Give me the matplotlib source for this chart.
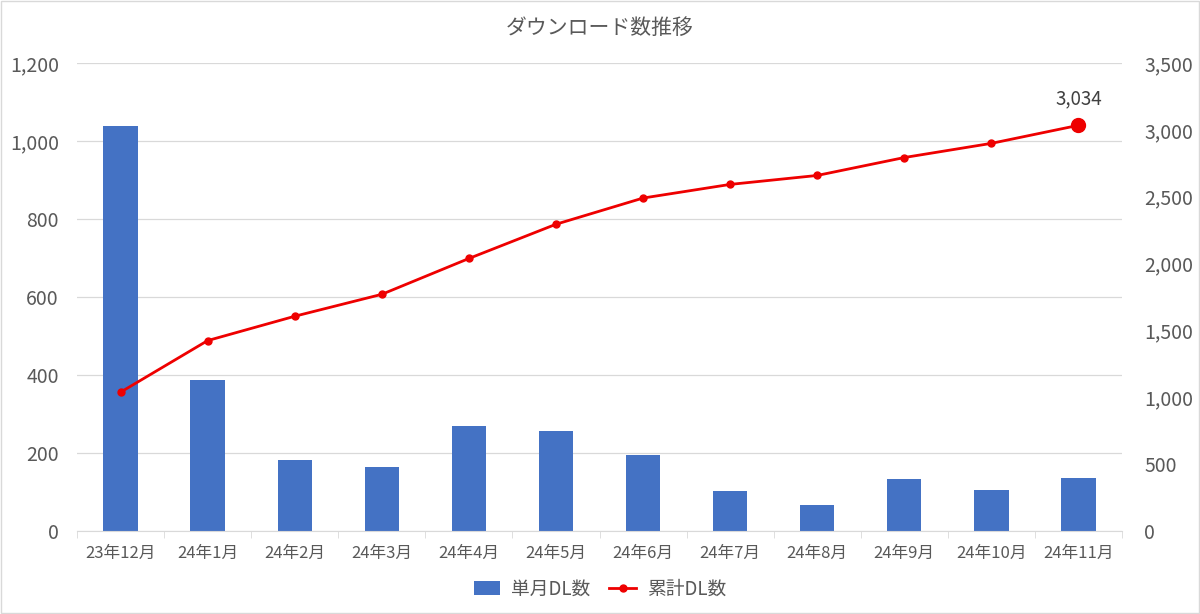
import matplotlib.pyplot as plt
import numpy as np
from matplotlib.ticker import FuncFormatter, FixedLocator

plt.rcParams["font.family"] = ["Noto Sans CJK JP", "DejaVu Sans"]

months = ["23年12月", "24年1月", "24年2月", "24年3月", "24年4月", "24年5月",
          "24年6月", "24年7月", "24年8月", "24年9月", "24年10月", "24年11月"]
monthly_dl = [1038, 386, 182, 164, 268, 256, 196, 102, 67, 134, 106, 135]
total_dl = [1038, 1424, 1606, 1770, 2038, 2294, 2490, 2592, 2659, 2793, 2899, 3034]

BAR_COLOR = "#4472C4"
LINE_COLOR = "#EE0000"
TEXT_COLOR = "#595959"
GRID_COLOR = "#D9D9D9"

fig = plt.figure(figsize=(12, 6.14), dpi=100)
ax = fig.add_axes([77 / 1200, 1 - 531 / 614, (1122 - 77) / 1200, (531 - 63) / 614])
ax2 = ax.twinx()

x = np.arange(len(months))
bars = ax.bar(x, monthly_dl, width=0.395, color=BAR_COLOR, zorder=2, label="単月DL数")
line, = ax2.plot(x, total_dl, color=LINE_COLOR, lw=2.0, marker="o", ms=5,
                 markerfacecolor=LINE_COLOR, markeredgecolor=LINE_COLOR,
                 zorder=3, label="累計DL数")
ax2.plot(x[-1], total_dl[-1], "o", color=LINE_COLOR, ms=10, zorder=4)
ax2.annotate(f"{total_dl[-1]:,}", (x[-1], total_dl[-1]), xytext=(0, 19),
             textcoords="offset points", ha="center", va="center",
             fontsize=13.5, color="#404040")

ax.set_xlim(-0.5, len(months) - 0.5)
ax.set_ylim(0, 1200)
ax2.set_ylim(0, 3500)
ax.set_yticks(np.arange(0, 1201, 200))
ax2.set_yticks(np.arange(0, 3501, 500))
fmt = FuncFormatter(lambda v, p: f"{int(v):,}")
ax.yaxis.set_major_formatter(fmt)
ax2.yaxis.set_major_formatter(fmt)

ax.set_xticks(x)
ax.set_xticklabels(months)
ax.xaxis.set_minor_locator(FixedLocator(np.arange(-0.5, len(months), 1)))
ax.tick_params(axis="x", which="major", length=0, pad=10, labelsize=12, colors=TEXT_COLOR)
ax.tick_params(axis="x", which="minor", length=5, color=GRID_COLOR)
ax.tick_params(axis="y", length=0, pad=13, labelsize=14, colors=TEXT_COLOR)
ax2.tick_params(axis="y", length=0, pad=16, labelsize=14, colors=TEXT_COLOR)

ax.grid(axis="y", color=GRID_COLOR, lw=0.9, zorder=0)
ax.set_axisbelow(True)
for a in (ax, ax2):
    for side in ("top", "left", "right"):
        a.spines[side].set_visible(False)
    a.spines["bottom"].set_color(GRID_COLOR)
ax2.spines["bottom"].set_visible(False)

fig.text(0.5, 1 - 28 / 614, "ダウンロード数推移", ha="center", va="center",
         fontsize=15, color=TEXT_COLOR)

fig.legend([bars, line], ["単月DL数", "累計DL数"], loc="center",
           bbox_to_anchor=(0.5, 1 - 589 / 614), ncol=2, frameon=False,
           fontsize=13.5, labelcolor=TEXT_COLOR, handlelength=1.4,
           handleheight=0.8, handletextpad=0.6, columnspacing=1.0)

fig.patches.append(plt.Rectangle((0.001, 0.001), 0.998, 0.997, transform=fig.transFigure,
                                 fill=False, edgecolor=GRID_COLOR, lw=1))

fig.savefig("out.png", dpi=100)
